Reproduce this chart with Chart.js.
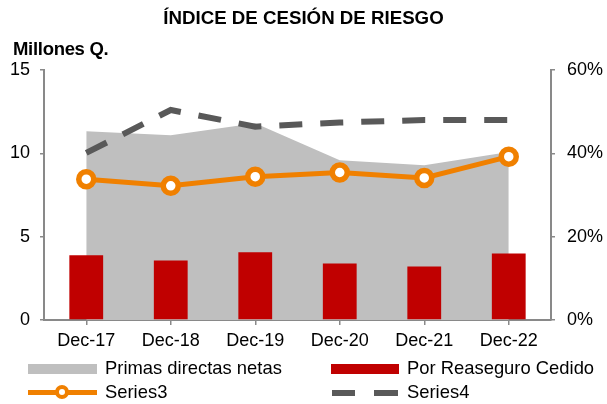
<!DOCTYPE html>
<html>
<head>
<meta charset="utf-8">
<script src="https://cdn.jsdelivr.net/npm/chart.js@4.4.0/dist/chart.umd.min.js"></script>
<style>
  body { margin: 0; background: #fff; font-family: "Liberation Sans", Arial, sans-serif; }
  #wrap { position: relative; width: 607px; height: 404px; }
  #chart { position: absolute; left: 0; top: 0; }
  .txt { position: absolute; color: #000; white-space: nowrap; }
  #title { left: 0; width: 607px; top: 7px; text-align: center; font-weight: bold; font-size: 18.7px; }
  #units { left: 13px; top: 38px; font-weight: bold; font-size: 18.5px; letter-spacing: -0.3px; }
  .lg { position: absolute; font-size: 18.4px; line-height: 22px; white-space: nowrap; }
  .sw { position: absolute; }
</style>
</head>
<body>
<div id="wrap">
  <canvas id="chart" width="607" height="404"></canvas>
  <div class="txt" id="title">ÍNDICE DE CESIÓN DE RIESGO</div>
  <div class="txt" id="units">Millones Q.</div>

  <div class="sw" style="left:28px;top:364px;width:69px;height:10px;background:#BFBFBF"></div>
  <div class="lg" style="left:105px;top:357px">Primas directas netas</div>
  <div class="sw" style="left:331px;top:364px;width:68px;height:10px;background:#C00000"></div>
  <div class="lg" style="left:407px;top:357px">Por Reaseguro Cedido</div>

  <div class="sw" style="left:28px;top:390px;width:69px;height:5px;background:#F08000"></div>
  <div class="sw" style="left:55px;top:385px;width:6px;height:6px;border:4.5px solid #F08000;border-radius:50%;background:#fff"></div>
  <div class="lg" style="left:105px;top:381px">Series3</div>
  <div class="sw" style="left:332px;top:390px;width:23px;height:6px;background:#595959"></div>
  <div class="sw" style="left:374px;top:390px;width:24px;height:6px;background:#595959"></div>
  <div class="lg" style="left:407px;top:381px">Series4</div>
</div>
<script>
var categories = ['Dec-17', 'Dec-18', 'Dec-19', 'Dec-20', 'Dec-21', 'Dec-22'];
var primasDirectas = [11.33, 11.08, 11.8, 9.58, 9.28, 10.08];   // millones Q.
var reaseguroCedido = [3.89, 3.57, 4.07, 3.39, 3.21, 3.99];     // millones Q.
var series3 = [33.8, 32.2, 34.4, 35.4, 34.1, 39.2];             // %
var series4 = [40.1, 50.4, 46.4, 47.4, 48.0, 48.0];             // %

var axisGray = '#898989';
var tickFont = { family: 'Liberation Sans', size: 18 };

var ctx = document.getElementById('chart').getContext('2d');
var chart = new Chart(ctx, {
    type: 'bar',
    data: {
        labels: categories,
        datasets: [{
            type: 'line',
            label: 'Series3',
            data: series3,
            yAxisID: 'y1',
            borderColor: '#F08000',
            borderWidth: 5,
            pointRadius: 7.5,
            pointBorderWidth: 5.5,
            pointBackgroundColor: '#fff',
            pointBorderColor: '#F08000',
            tension: 0,
            fill: false,
            order: 1
        }, {
            type: 'line',
            label: 'Series4',
            data: series4,
            yAxisID: 'y1',
            borderColor: '#595959',
            borderWidth: 6,
            borderDash: [23, 18],
            pointRadius: 0,
            tension: 0,
            fill: false,
            order: 2
        }, {
            type: 'bar',
            label: 'Por Reaseguro Cedido',
            data: reaseguroCedido,
            yAxisID: 'y',
            backgroundColor: '#C00000',
            barPercentage: 0.4,
            categoryPercentage: 1,
            order: 3
        }, {
            type: 'line',
            label: 'Primas directas netas',
            data: primasDirectas,
            yAxisID: 'y',
            backgroundColor: '#BFBFBF',
            borderWidth: 0,
            pointRadius: 0,
            tension: 0,
            fill: 'origin',
            order: 4
        }]
    },
    options: {
        responsive: false,
        animation: false,
        layout: { padding: { top: 70, bottom: 54, left: 0, right: 0 } },
        plugins: {
            legend: { display: false },
            title: { display: false },
            tooltip: { enabled: false }
        },
        scales: {
            x: {
                offset: true,
                grid: { display: true, drawOnChartArea: false, offset: false, color: axisGray, tickLength: 5, lineWidth: 1.5 },
                border: { display: true, color: axisGray, width: 2 },
                ticks: { color: '#000', font: tickFont, padding: 5, maxRotation: 0 },
                afterFit: function (s) { s.height = 30; }
            },
            y: {
                position: 'left',
                min: 0,
                max: 15,
                ticks: { stepSize: 5, color: '#000', font: tickFont, padding: 10 },
                grid: { display: true, drawOnChartArea: false, color: axisGray, tickLength: 4, lineWidth: 1.5 },
                border: { display: true, color: axisGray, width: 2 },
                afterFit: function (s) { s.width = 44; }
            },
            y1: {
                position: 'right',
                min: 0,
                max: 60,
                ticks: {
                    stepSize: 20, color: '#000', font: tickFont, padding: 12,
                    callback: function (v) { return v + '%'; }
                },
                grid: { display: true, drawOnChartArea: false, color: axisGray, tickLength: 4, lineWidth: 1.5 },
                border: { display: true, color: axisGray, width: 2 },
                afterFit: function (s) { s.width = 56; }
            }
        }
    }
});
</script>
</body>
</html>
